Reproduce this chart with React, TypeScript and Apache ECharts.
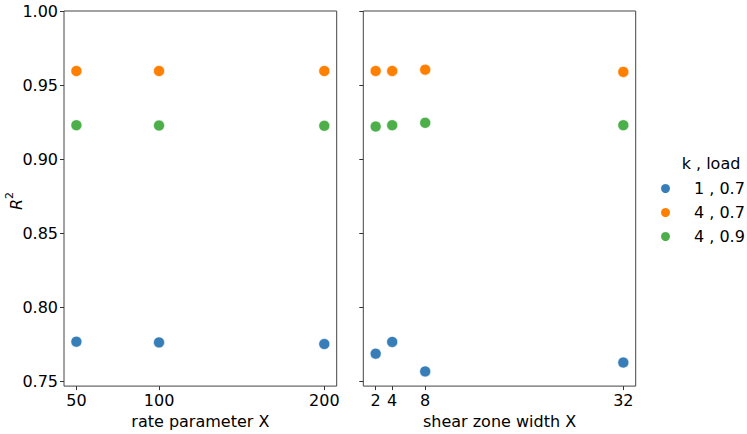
import React, { useEffect, useRef } from "react";
import * as echarts from "echarts";

const rateX = [50, 100, 200];
const rateK1L07 = [0.7768, 0.7763, 0.7752];
const rateK4L07 = [0.9595, 0.9595, 0.9595];
const rateK4L09 = [0.9229, 0.9227, 0.9225];

const widthX = [2, 4, 8, 32];
const widthK1L07 = [0.7687, 0.7766, 0.7567, 0.7627];
const widthK4L07 = [0.9595, 0.9595, 0.9604, 0.9589];
const widthK4L09 = [0.922, 0.9229, 0.9245, 0.9229];

const seriesNames = ["1 , 0.7", "4 , 0.7", "4 , 0.9"];
const colors = ["#377eb8", "#ff7f00", "#4daf4a"];
const yTicks = [0.75, 0.8, 0.85, 0.9, 0.95, 1.0];
const rateTicks = [50, 100, 200];
const widthTicks = [2, 4, 8, 32];

const FONT = "DejaVu Sans";

function pairs(xs: number[], ys: number[]) {
  return xs.map((x, i) => [x, ys[i]]);
}

export default function App() {
  const ref = useRef<HTMLDivElement>(null);
  useEffect(() => {
    if (!ref.current) return;
    const chart = echarts.init(ref.current, undefined, { renderer: "svg" });
    const axisText = { color: "#000", fontFamily: FONT, fontSize: 16 };
    const tickStyle = { show: true, inside: false, length: 4, lineStyle: { color: "#333", width: 1 } };
    const xBase = (gi: number, min: number, max: number, ticks: number[], name: string) => ({
      type: "value",
      gridIndex: gi,
      min,
      max,
      name,
      nameLocation: "middle",
      nameGap: 24,
      nameTextStyle: axisText,
      axisLine: { show: false },
      splitLine: { show: false },
      axisTick: { ...tickStyle, customValues: ticks },
      axisLabel: { ...axisText, margin: 6, customValues: ticks, formatter: (v: number) => String(v) },
    });
    const yBase = (gi: number, showLabel: boolean) => ({
      type: "value",
      gridIndex: gi,
      min: 0.7468,
      max: 1.0,
      axisLine: { show: false },
      splitLine: { show: false },
      axisTick: { ...tickStyle, customValues: yTicks },
      axisLabel: {
        ...axisText,
        show: showLabel,
        margin: 6,
        customValues: yTicks,
        formatter: (v: number) => v.toFixed(2),
      },
    });
    const groups = [
      [rateK1L07, rateK4L07, rateK4L09],
      [widthK1L07, widthK4L07, widthK4L09],
    ];
    const xsets = [rateX, widthX];
    const series: any[] = [];
    groups.forEach((g, gi) => {
      g.forEach((ys, si) => {
        series.push({
          type: "scatter",
          name: seriesNames[si],
          xAxisIndex: gi,
          yAxisIndex: gi,
          data: pairs(xsets[gi], ys),
          symbolSize: 11,
          itemStyle: { color: colors[si], borderColor: "#fff", borderWidth: 0.6, opacity: 1 },
        });
      });
    });
    chart.setOption({
      animation: false,
      backgroundColor: "#fff",
      grid: [
        { left: 64, top: 11, width: 272.7, height: 378, show: true, borderColor: "#444", borderWidth: 1, backgroundColor: "transparent" },
        { left: 363.3, top: 11, width: 272.4, height: 378, show: true, borderColor: "#444", borderWidth: 1, backgroundColor: "transparent" },
      ],
      xAxis: [
        xBase(0, 42.5, 207.5, rateTicks, "rate parameter X"),
        xBase(1, 0.5, 33.5, widthTicks, "shear zone width X"),
      ],
      yAxis: [yBase(0, true), yBase(1, false)],
      legend: {
        data: seriesNames,
        orient: "vertical",
        left: 654,
        top: 174,
        icon: "circle",
        itemWidth: 11,
        itemHeight: 11,
        itemGap: 5,
        textStyle: { color: "#000", fontFamily: FONT, fontSize: 16, lineHeight: 19, padding: [0, 0, 0, 18] },
      },
      graphic: [
        {
          type: "text",
          x: 711,
          y: 163,
          style: {
            text: "k , load",
            fill: "#000",
            font: `16px "${FONT}"`,
            align: "center",
            verticalAlign: "middle",
          },
        },
        {
          type: "text",
          x: 14,
          y: 201,
          rotation: Math.PI / 2,
          style: {
            text: "{i|R}{s|2}",
            align: "center",
            verticalAlign: "middle",
            rich: {
              i: { fontFamily: FONT, fontSize: 16, fontStyle: "italic", fill: "#000", verticalAlign: "bottom", lineHeight: 20 },
              s: { fontFamily: FONT, fontSize: 11, fill: "#000", verticalAlign: "top", lineHeight: 20 },
            },
          },
        },
      ],
      series,
    });
    return () => chart.dispose();
  }, []);
  return <div ref={ref} style={{ position: "fixed", left: 0, top: 0, width: 747, height: 434 }} />;
}
